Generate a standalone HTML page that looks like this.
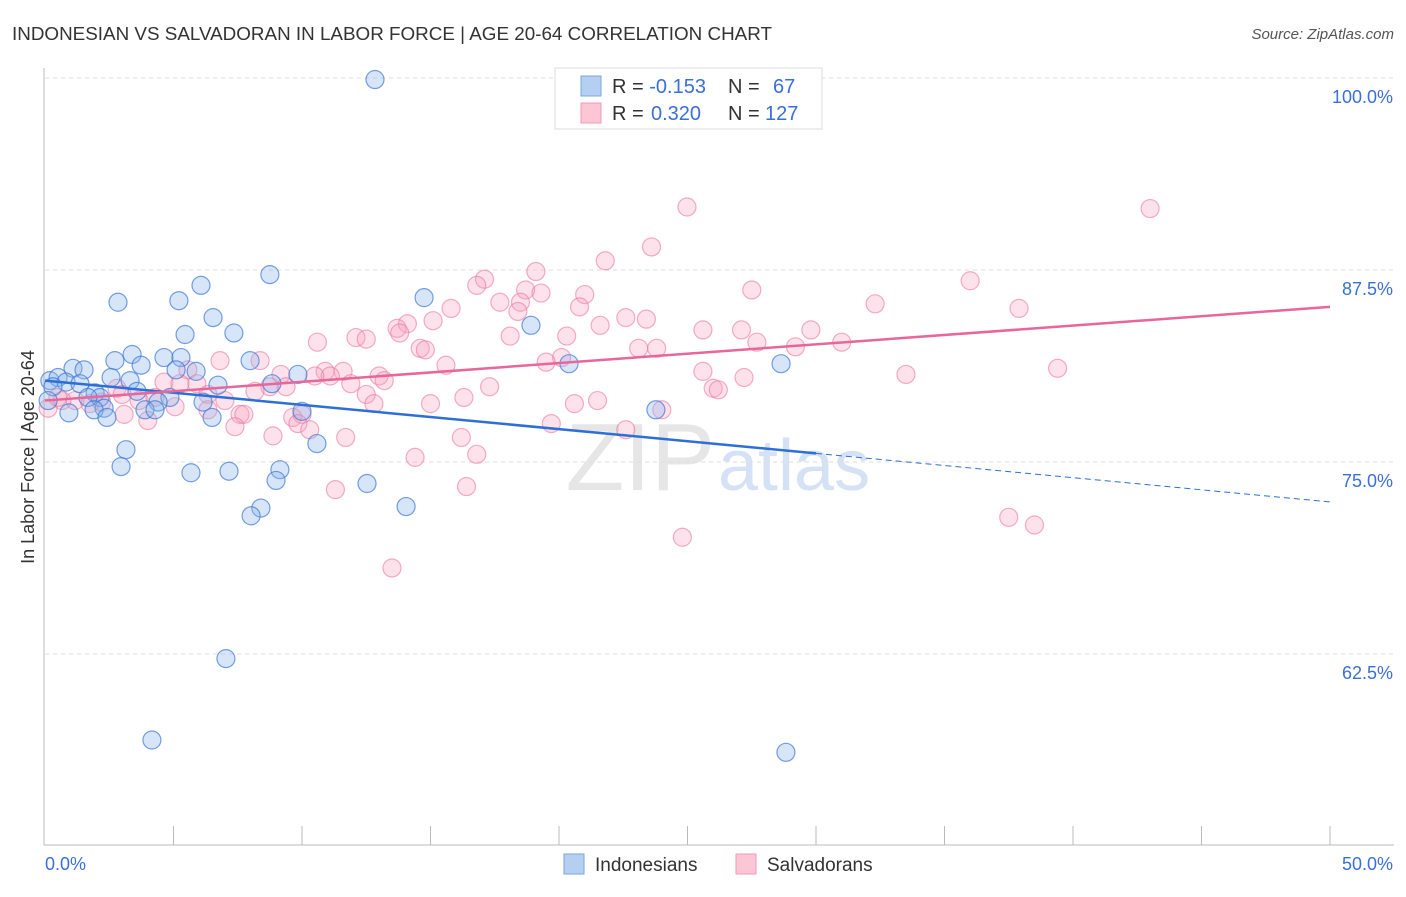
<!DOCTYPE html>
<html><head><meta charset="utf-8"><style>
body{margin:0;background:#fff;font-family:"Liberation Sans",sans-serif}
svg text{font-family:"Liberation Sans",sans-serif}
</style></head><body>
<svg id="c" width="1406" height="892" xmlns="http://www.w3.org/2000/svg">
<text x="12" y="40" font-size="18.5" fill="#333" textLength="760" lengthAdjust="spacingAndGlyphs">INDONESIAN VS SALVADORAN IN LABOR FORCE | AGE 20-64 CORRELATION CHART</text>
<text x="1394" y="39" font-size="15" fill="#555" font-style="italic" text-anchor="end">Source: ZipAtlas.com</text>
<text x="715" y="490" font-size="96" fill="#e6e6e6" text-anchor="end" font-family="Liberation Serif">ZIP</text>
<text x="718" y="490" font-size="72" fill="#d5e2f5">atlas</text>
<text transform="translate(34,457) rotate(-90)" font-size="18" fill="#333" text-anchor="middle">In Labor Force | Age 20-64</text>
<g id="grid"></g><g id="marks"></g><g id="lines"></g>
<g>
<rect x="555" y="68" width="267" height="61" fill="#fff" stroke="#ddd"/>
<rect x="581" y="76" width="20" height="20" fill="#b5cff2" stroke="#7ea6e0"/>
<rect x="581" y="103" width="20" height="20" fill="#fcc6d6" stroke="#f09ab4"/>
<text x="612" y="93" font-size="20" fill="#333">R = <tspan fill="#3a6fd8">-0.153</tspan><tspan x="728">N = </tspan><tspan x="773" fill="#3a6fd8">67</tspan></text>
<text x="612" y="120" font-size="20" fill="#333">R = <tspan fill="#3a6fd8" x="651">0.320</tspan><tspan x="728">N = </tspan><tspan x="765" fill="#3a6fd8">127</tspan></text>
</g>
<g>
<rect x="564" y="854" width="20" height="20" fill="#b5cff2" stroke="#7ea6e0"/>
<text x="595" y="871" font-size="19" fill="#333">Indonesians</text>
<rect x="736" y="854" width="20" height="20" fill="#fcc6d6" stroke="#f09ab4"/>
<text x="767" y="871" font-size="19" fill="#333">Salvadorans</text>
</g>
</svg>
<script>
const yTicks=[100,87.5,75,62.5];
const xLabels=["0.0%","50.0%"];
const blueX=[12.84,8.75,6.07,2.84,5.21,14.75,6.54,5.45,7.35,18.91,3.39,2.72,4.63,5.29,7.98,20.39,28.64,1.09,1.52,3.74,5.88,5.10,9.84,2.57,0.19,0.51,0.82,1.36,3.31,6.73,8.83,0.31,1.95,2.14,1.67,3.58,4.86,4.40,6.15,0.12,2.30,3.89,4.28,10.0,0.93,1.91,2.41,6.50,10.58,3.15,2.96,5.68,7.16,9.14,8.99,12.53,14.05,8.40,8.02,23.77,7.04,4.16,28.83];
const blueY=[99.9,87.2,86.5,85.4,85.5,85.7,84.4,83.3,83.4,83.9,82.0,81.6,81.8,81.8,81.6,81.4,81.4,81.1,81.0,81.3,80.9,81.0,80.7,80.5,80.3,80.5,80.2,80.1,80.3,80.0,80.1,79.9,79.5,79.2,79.2,79.6,79.2,78.9,78.9,79.0,78.5,78.4,78.4,78.3,78.2,78.4,77.9,77.9,76.2,75.8,74.7,74.3,74.4,74.5,73.8,73.6,72.1,72.0,71.5,78.4,62.2,56.9,56.1];
const pinkX=[24.98,43.0,23.6,21.8,19.1,17.1,16.8,18.7,19.3,21.0,27.5,36.0,37.9,32.3,17.7,18.5,20.8,18.4,15.8,15.1,14.1,13.7,13.8,22.6,23.4,21.6,25.6,27.1,29.8,18.1,20.3,12.1,12.5,10.6,31.0,27.7,29.2,14.6,14.8,23.1,23.8,20.1,19.5,6.81,8.37,15.6,5.56,25.6,33.5,39.4,9.18,10.9,11.6,13.0,11.1,10.5,4.63,5.25,5.91,11.9,13.2,27.2,17.3,8.75,9.38,2.80,26.0,26.2,8.17,12.5,6.34,7.0,16.3,21.5,3.66,4.28,1.17,1.75,0.66,0.12,12.8,15.0,20.6,6.34,7.59,7.74,5.06,3.08,9.64,10.0,9.84,4.0,7.39,10.3,19.7,22.6,11.7,16.2,8.87,16.8,14.4,11.3,16.4,37.5,38.5,24.8,13.5,24.0,0.5,2.2,3.0];
const pinkY=[91.6,91.5,89.0,88.1,87.4,86.9,86.5,86.2,86.0,85.9,86.2,86.8,85.0,85.3,85.4,85.4,85.1,84.8,85.0,84.2,84.0,83.7,83.4,84.4,84.3,83.9,83.6,83.6,83.6,83.2,83.2,83.1,83.0,82.8,82.8,82.8,82.5,82.4,82.3,82.4,82.4,81.8,81.5,81.6,81.6,81.3,81.0,80.9,80.7,81.1,80.7,80.9,80.9,80.6,80.6,80.6,80.2,80.1,80.1,80.1,80.3,80.5,79.9,79.9,79.9,79.8,79.8,79.7,79.6,79.4,79.4,79.0,79.2,79.0,79.0,79.2,79.0,78.8,79.0,78.5,78.8,78.8,78.8,78.4,78.1,78.1,78.6,78.1,77.9,78.1,77.5,77.7,77.3,77.1,77.5,77.1,76.6,76.6,76.7,75.5,75.3,73.2,73.4,71.4,70.9,70.1,68.1,78.4,79.2,78.9,79.4];
const blueTrend=[80.3,72.4];
const pinkTrend=[79.0,85.1];
const NS="http://www.w3.org/2000/svg";
const X=v=>45+v/50*1285, Y=v=>78+(100-v)/12.5*192;
function mk(t,a,p){const e=document.createElementNS(NS,t);for(const k in a)e.setAttribute(k,a[k]);p.appendChild(e);return e;}
const g=document.getElementById('grid');
yTicks.forEach(t=>{
 const l=mk('line',{x1:45,x2:1394,y1:Y(t),y2:Y(t),stroke:'#ddd','stroke-dasharray':'4,4'},g);
 
 
 const tx=mk('text',{x:1393,y:Y(t)+25,'font-size':18,fill:'#3a6fd8','text-anchor':'end'},g);
 tx.textContent=t.toFixed(1)+'%';
 
 
});
const ax=mk('path',{d:'M44 68V845H1394',fill:'none',stroke:'#bbb'},g);


for(let i=1;i<=10;i++){const t=mk('line',{x1:X(i*5),x2:X(i*5),y1:826,y2:845,stroke:'#bbb'},g);
 
 }
[[xLabels[0],45,'start'],[xLabels[1],1393,'end']].forEach(a=>{const t=mk('text',{x:a[1],y:870,'font-size':18,fill:'#3a6fd8','text-anchor':a[2]},g);t.textContent=a[0];
 
 });
const m=document.getElementById('marks');
pinkX.forEach((x,i)=>{const c=mk('circle',{cx:X(x),cy:Y(pinkY[i]),r:9,fill:'rgba(248,160,188,0.3)',stroke:'rgba(236,120,160,0.6)','stroke-width':1.2},m);
 
 });
blueX.forEach((x,i)=>{const c=mk('circle',{cx:X(x),cy:Y(blueY[i]),r:9,fill:'rgba(140,180,235,0.35)',stroke:'rgba(60,120,215,0.7)','stroke-width':1.2},m);
 
 });
const L=document.getElementById('lines');
const by=x=>blueTrend[0]+(blueTrend[1]-blueTrend[0])*x/50;
const b1=mk('line',{x1:X(0),y1:Y(by(0)),x2:X(30),y2:Y(by(30)),stroke:'#2d6fd6','stroke-width':2.5},L);


const b2=mk('line',{x1:X(30),y1:Y(by(30)),x2:X(50),y2:Y(by(50)),stroke:'#2d6fd6','stroke-width':1,'stroke-dasharray':'6,4'},L);


const p1=mk('line',{x1:X(0),y1:Y(pinkTrend[0]),x2:X(50),y2:Y(pinkTrend[1]),stroke:'#e8669a','stroke-width':2.5},L);


</script>
</body></html>
